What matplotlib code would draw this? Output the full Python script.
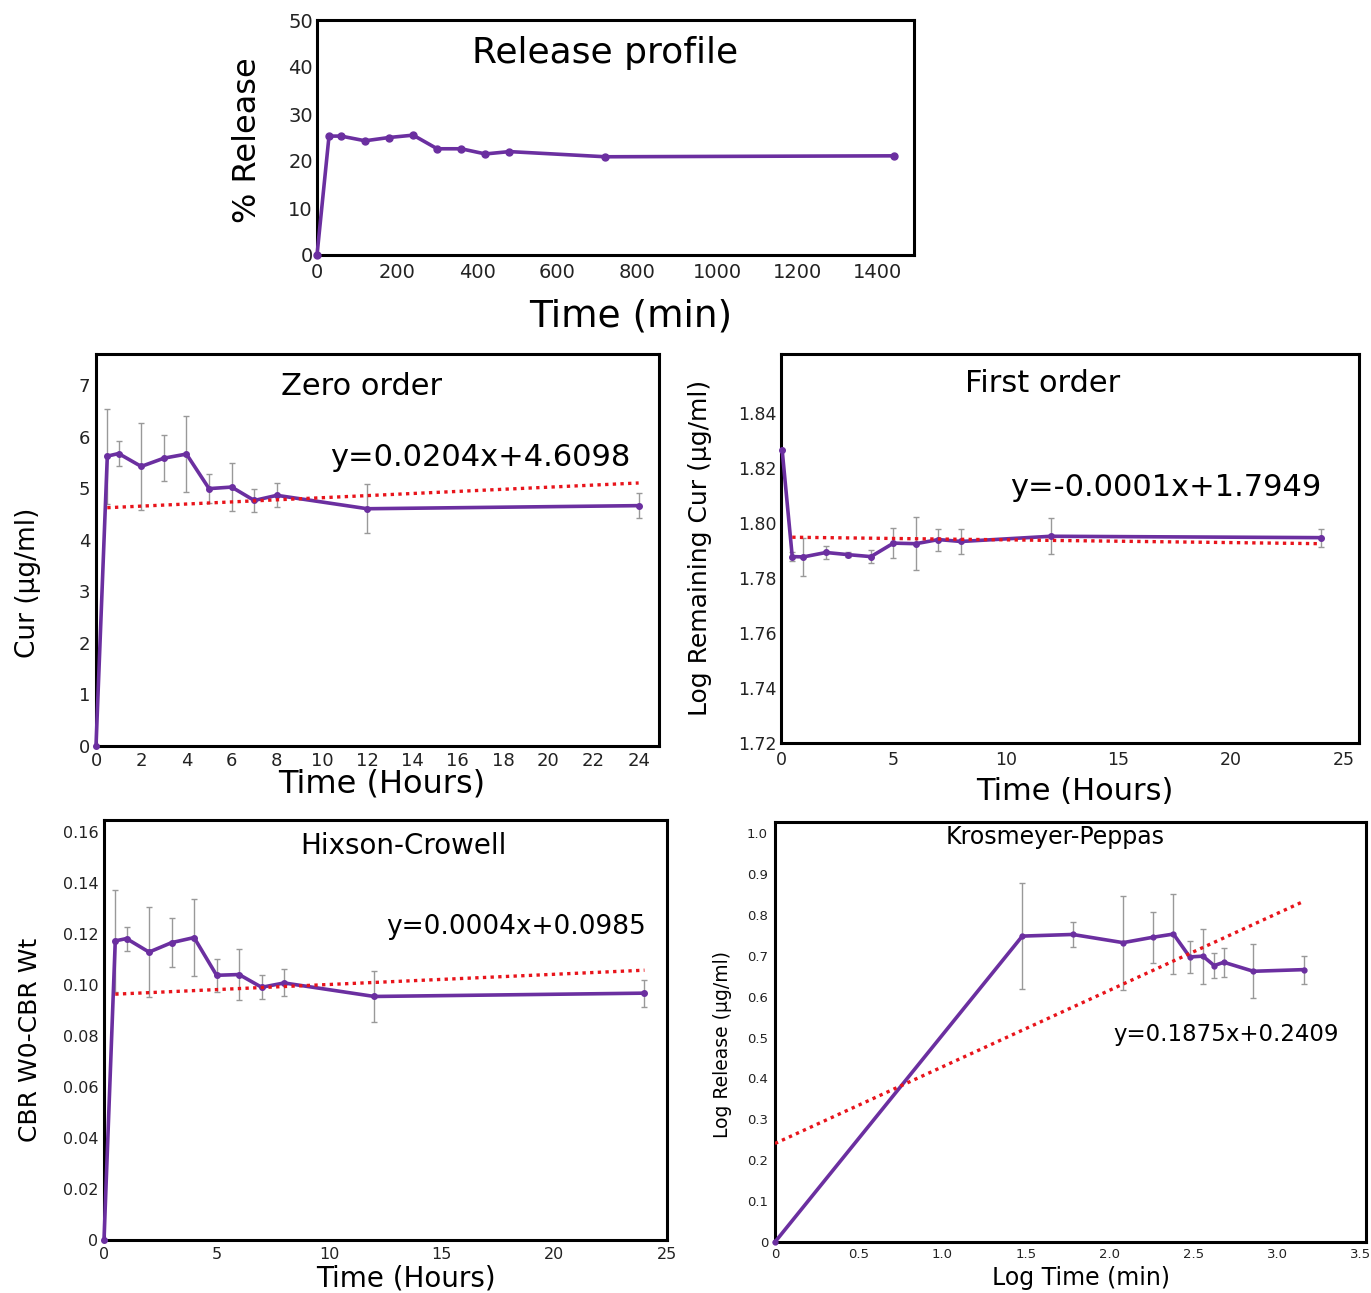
import matplotlib
matplotlib.use("Agg")
import matplotlib.pyplot as plt
import numpy as np

plt.rcParams['font.family'] = ['DejaVu Sans']

# ---------------- data ----------------
# Release profile (% release vs time in min)
rp_time = [0, 30, 60, 120, 180, 240, 300, 360, 420, 480, 720, 1440]
rp_release = [0, 25.3, 25.3, 24.3, 25.0, 25.5, 22.6, 22.6, 21.5, 22.0, 20.9, 21.1]

# Zero order (Cur ug/ml vs hours)
hours = [0, 0.5, 1, 2, 3, 4, 5, 6, 7, 8, 12, 24]
zo_val = [0, 5.62, 5.67, 5.42, 5.58, 5.66, 4.99, 5.02, 4.76, 4.86, 4.60, 4.66]
zo_err = [0, 0.92, 0.24, 0.84, 0.45, 0.73, 0.28, 0.47, 0.23, 0.23, 0.47, 0.24]
zo_slope, zo_icpt = 0.0204, 4.6098
zo_eq = "y=0.0204x+4.6098"

# First order (log remaining)
fo_hours = [0.05, 0.5, 1, 2, 3, 4, 5, 6, 7, 8, 12, 24]
fo_val = [1.8267, 1.7878, 1.7877, 1.7893, 1.7885, 1.7878, 1.7927, 1.7925, 1.7940, 1.7933, 1.7952, 1.7947]
fo_err = [0, 0.0015, 0.0068, 0.0024, 0.0008, 0.0024, 0.0054, 0.0096, 0.0040, 0.0046, 0.0066, 0.0033]
fo_slope, fo_icpt = -0.0001, 1.7949
fo_eq = "y=-0.0001x+1.7949"

# Hixson-Crowell
hc_val = [0, 0.1173, 0.1182, 0.1129, 0.1166, 0.1186, 0.1038, 0.1041, 0.0991, 0.1008, 0.0955, 0.0968]
hc_err = [0, 0.0200, 0.0047, 0.0178, 0.0095, 0.0151, 0.0065, 0.0101, 0.0047, 0.0053, 0.0100, 0.0053]
hc_slope, hc_icpt_drawn = 0.0004, 0.0962
hc_eq = "y=0.0004x+0.0985"

# Korsmeyer-Peppas
kp_logt = [0, 1.477, 1.778, 2.079, 2.255, 2.380, 2.477, 2.556, 2.623, 2.681, 2.857, 3.158]
kp_val = [0, 0.748, 0.752, 0.732, 0.745, 0.753, 0.697, 0.699, 0.676, 0.684, 0.662, 0.666]
kp_err = [0, 0.130, 0.031, 0.115, 0.062, 0.097, 0.040, 0.067, 0.031, 0.035, 0.066, 0.034]
kp_slope, kp_icpt = 0.1875, 0.2409
kp_eq = "y=0.1875x+0.2409"

# ---------------- style ----------------
PURPLE = "#6B2FA0"
RED = "#E8141B"
GREY = "#999999"

W, H = 1371, 1293
fig = plt.figure(figsize=(W / 100, H / 100), dpi=100)


def ax_at(l, t, r, b):
    return fig.add_axes([l / W, 1 - b / H, (r - l) / W, (b - t) / H])


def style(ax, tick_fs, xpad=4, ypad=4):
    for s in ax.spines.values():
        s.set_linewidth(2.2)
        s.set_color("black")
    ax.tick_params(length=0, labelsize=tick_fs, colors="#222222")
    ax.tick_params(axis="x", pad=xpad)
    ax.tick_params(axis="y", pad=ypad)


def series(ax, x, y, err=None, lw=2.6, ms=4.0):
    if err is not None:
        ax.errorbar(x, y, yerr=err, fmt="none", ecolor=GREY, elinewidth=1.0,
                    capsize=2.5, capthick=1.0, zorder=2)
    ax.plot(x, y, color=PURPLE, lw=lw, marker="o", ms=ms, zorder=3, clip_on=False)


def trend(ax, x0, x1, slope, icpt):
    xs = np.array([x0, x1])
    ax.plot(xs, slope * xs + icpt, color=RED, lw=2.4, ls=(0, (1, 1.3)), zorder=4)


def vlabel(x, y, s, fs):
    fig.text(x / W, 1 - y / H, s, rotation=90, ha="center", va="center", fontsize=fs)


def hlabel(x, y, s, fs):
    fig.text(x / W, 1 - y / H, s, ha="center", va="center", fontsize=fs)


# ---- Release profile ----
ax = ax_at(317, 20, 914, 255)
series(ax, rp_time, rp_release, lw=2.6, ms=5)
ax.set_xlim(0, 1490)
ax.set_ylim(0, 50)
ax.set_xticks(range(0, 1401, 200))
ax.set_yticks(range(0, 51, 10))
style(ax, 14, xpad=6, ypad=3)
ax.text(0.482, 0.86, "Release profile", transform=ax.transAxes, ha="center", va="center", fontsize=26)
vlabel(248, 140, "% Release", 23)
hlabel(631, 317, "Time (min)", 27)

# ---- Zero order ----
ax = ax_at(96, 354, 659, 746)
series(ax, hours, zo_val, zo_err)
trend(ax, 0.5, 24, zo_slope, zo_icpt)
ax.set_xlim(0, 24.9)
ax.set_ylim(0, 7.6)
ax.set_xticks(range(0, 25, 2))
ax.set_yticks(range(0, 8))
style(ax, 13, xpad=4, ypad=4)
ax.text(0.472, 0.916, "Zero order", transform=ax.transAxes, ha="center", va="center", fontsize=22)
ax.text(0.682, 0.737, zo_eq, transform=ax.transAxes, ha="center", va="center", fontsize=22)
vlabel(28, 583, "Cur (µg/ml)", 19)
hlabel(382, 784, "Time (Hours)", 23)

# ---- First order ----
ax = ax_at(781, 354, 1359, 743)
series(ax, fo_hours, fo_val, fo_err)
trend(ax, 0.5, 24, fo_slope, fo_icpt)
ax.set_xlim(0, 25.7)
ax.set_ylim(1.72, 1.8615)
ax.set_xticks(range(0, 26, 5))
ax.set_yticks([1.72, 1.74, 1.76, 1.78, 1.80, 1.82, 1.84])
ax.set_yticklabels(["1.72", "1.74", "1.76", "1.78", "1.80", "1.82", "1.84"])
style(ax, 12.5, xpad=6, ypad=3)
ax.text(0.452, 0.923, "First order", transform=ax.transAxes, ha="center", va="center", fontsize=22)
ax.text(0.666, 0.656, fo_eq, transform=ax.transAxes, ha="center", va="center", fontsize=22)
vlabel(700, 548, "Log Remaining Cur (µg/ml)", 18)
hlabel(1075, 791, "Time (Hours)", 22)

# ---- Hixson-Crowell ----
ax = ax_at(104, 820, 667, 1240)
series(ax, hours, hc_val, hc_err)
trend(ax, 0.5, 24, hc_slope, hc_icpt_drawn)
ax.set_xlim(0, 25)
ax.set_ylim(0, 0.1647)
ax.set_xticks(range(0, 26, 5))
ax.set_yticks([0, 0.02, 0.04, 0.06, 0.08, 0.10, 0.12, 0.14, 0.16])
ax.set_yticklabels(["0", "0.02", "0.04", "0.06", "0.08", "0.10", "0.12", "0.14", "0.16"])
style(ax, 11.5, xpad=5, ypad=4)
ax.text(0.531, 0.938, "Hixson-Crowell", transform=ax.transAxes, ha="center", va="center", fontsize=20)
ax.text(0.732, 0.745, hc_eq, transform=ax.transAxes, ha="center", va="center", fontsize=19)
vlabel(30, 1040, "CBR W0-CBR Wt", 18)
hlabel(406, 1278, "Time (Hours)", 20)

# ---- Korsmeyer-Peppas ----
ax = ax_at(775, 822, 1366, 1242)
series(ax, kp_logt, kp_val, kp_err, ms=3.5)
trend(ax, 0, 3.158, kp_slope, kp_icpt)
ax.set_xlim(0, 3.53)
ax.set_ylim(0, 1.027)
ax.set_xticks([0, 0.5, 1.0, 1.5, 2.0, 2.5, 3.0, 3.5])
ax.set_xticklabels(["0", "0.5", "1.0", "1.5", "2.0", "2.5", "3.0", "3.5"])
ax.set_yticks([0, 0.1, 0.2, 0.3, 0.4, 0.5, 0.6, 0.7, 0.8, 0.9, 1.0])
ax.set_yticklabels(["0", "0.1", "0.2", "0.3", "0.4", "0.5", "0.6", "0.7", "0.8", "0.9", "1.0"])
style(ax, 9.5, xpad=4, ypad=5)
ax.text(0.474, 0.964, "Krosmeyer-Peppas", transform=ax.transAxes, ha="center", va="center", fontsize=17)
ax.text(0.763, 0.493, kp_eq, transform=ax.transAxes, ha="center", va="center", fontsize=16.5)
vlabel(723, 1045, "Log Release (µg/ml)", 13.5)
hlabel(1081, 1278, "Log Time (min)", 17)

fig.savefig("out.png", dpi=100)
